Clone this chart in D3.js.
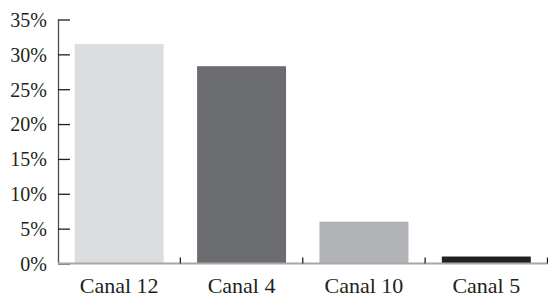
<!DOCTYPE html>
<html>
<head>
<meta charset="utf-8">
<script src="https://cdn.jsdelivr.net/npm/d3@7"></script>
<style>
  html, body { margin: 0; padding: 0; background: #fff; }
  svg { display: block; }
  text { font-family: "Liberation Serif", serif; fill: #231f20; }
</style>
</head>
<body>
<svg id="chart" width="548" height="297"></svg>
<script>
const categories = ["Canal 12", "Canal 4", "Canal 10", "Canal 5"];
const values = [31.5, 28.3, 6.0, 1.0];
const colors = ["#dcdddf", "#6b6c70", "#b1b2b6", "#231f20"];
const yTicks = [0, 5, 10, 15, 20, 25, 30, 35];

const svg = d3.select("#chart");
const x0 = 58, x1 = 547.5, yTop = 19.5, yBase = 263.5;

const x = d3.scaleBand().domain(categories).range([x0, x1]).paddingInner(0.273).paddingOuter(0.1365);
const y = d3.scaleLinear().domain([0, 35]).range([yBase, yTop]);

// bars
svg.append("g").selectAll("rect").data(categories).join("rect")
  .attr("x", d => x(d))
  .attr("width", x.bandwidth())
  .attr("y", (d, i) => y(values[i]))
  .attr("height", (d, i) => yBase - y(values[i]))
  .attr("fill", (d, i) => colors[i]);

// y axis
const yAxis = d3.axisRight(y).tickValues(yTicks).tickSize(12).tickFormat(d => d + "%");
const gy = svg.append("g").attr("transform", `translate(${x0},0)`).call(yAxis);
gy.select(".domain").attr("stroke", "#4d4d4f").attr("stroke-width", 1.3).attr("d", `M0.5,${yTop}V${yBase}`);
gy.selectAll(".tick line").attr("stroke", "#231f20").attr("stroke-width", 1.3);
gy.selectAll(".tick text")
  .attr("x", -11).attr("dy", "0.34em")
  .attr("text-anchor", "end")
  .style("font-size", "20px")
  .style("font-family", "'Liberation Serif', serif")
  .attr("fill", "#231f20");

// x axis baseline
svg.append("line")
  .attr("x1", x0).attr("x2", x1)
  .attr("y1", yBase).attr("y2", yBase)
  .attr("stroke", "#a7a8ab").attr("stroke-width", 2);

// x boundary ticks (between categories)
const bounds = categories.map(c => x(c) + x.bandwidth() + x.step() * x.paddingInner() / 2);
svg.append("g").selectAll("line").data(bounds).join("line")
  .attr("x1", d => d).attr("x2", d => d)
  .attr("y1", yBase - 6).attr("y2", yBase)
  .attr("stroke", "#231f20").attr("stroke-width", 1.3);

// x labels
svg.append("g").selectAll("text").data(categories).join("text")
  .attr("x", d => x(d) + x.bandwidth() / 2)
  .attr("y", 293)
  .attr("text-anchor", "middle")
  .style("font-size", "22px")
  .text(d => d);
</script>
</body>
</html>
